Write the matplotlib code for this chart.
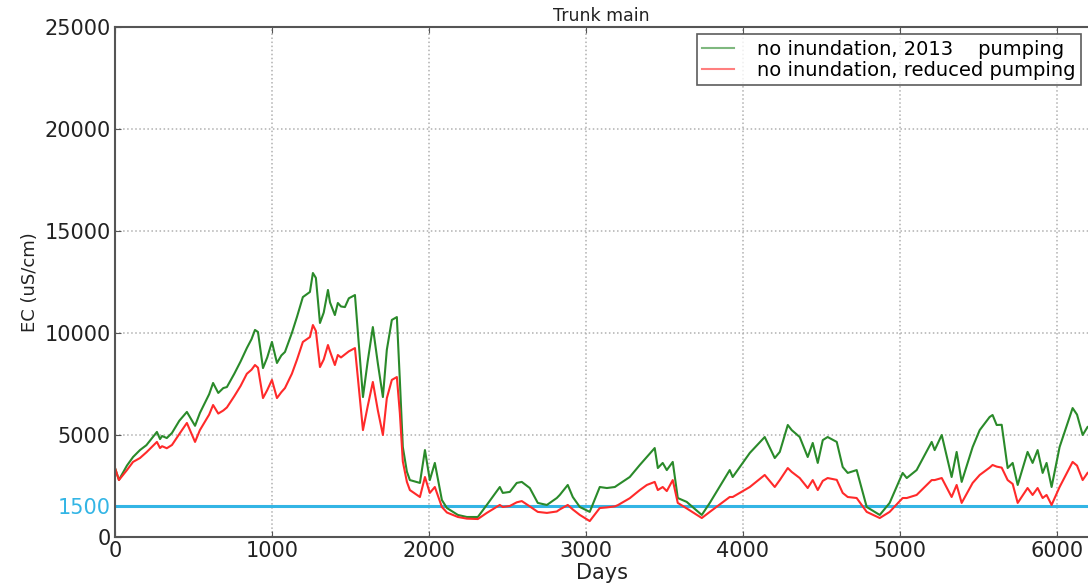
import matplotlib
matplotlib.use("Agg")
import matplotlib.pyplot as plt

days = [0, 25, 76, 115, 159, 200, 267, 287, 300, 330, 363, 410, 458, 510, 541, 600, 625, 658, 690, 713,
        760, 800, 840, 870, 892, 911, 943, 970, 1000, 1032, 1060, 1083, 1127, 1160, 1197, 1242, 1261, 1280,
        1306, 1330, 1357, 1370, 1401, 1420, 1440, 1465, 1490, 1529, 1555, 1580, 1610, 1643, 1675, 1707,
        1732, 1764, 1796, 1815, 1834, 1860, 1879, 1943, 1975, 2006, 2038, 2083, 2115, 2185, 2242, 2312,
        2369, 2452, 2471, 2516, 2560, 2592, 2643, 2694, 2752, 2815, 2834, 2885, 2917, 2962, 3025, 3089,
        3134, 3185, 3204, 3280, 3344, 3389, 3439, 3459, 3490, 3516, 3554, 3586, 3643, 3739, 3790, 3917,
        3936, 4045, 4140, 4204, 4236, 4287, 4312, 4363, 4414, 4446, 4478, 4510, 4541, 4599, 4637, 4669,
        4726, 4790, 4873, 4936, 5019, 5045, 5108, 5204, 5223, 5268, 5331, 5363, 5395, 5465, 5510, 5573,
        5592, 5618, 5650, 5688, 5720, 5752, 5815, 5847, 5879, 5911, 5936, 5968, 6019, 6102, 6130, 6166, 6197]

ec_2013 = [3380, 2800, 3500, 3920, 4260, 4500, 5150, 4800, 4950, 4850, 5100, 5700, 6130, 5450, 6080, 7000,
           7550, 7060, 7300, 7350, 8000, 8600, 9260, 9700, 10150, 10050, 8280, 8800, 9560, 8530, 8900, 9070,
           10000, 10800, 11760, 12010, 12940, 12700, 10490, 11000, 12110, 11500, 10880, 11470, 11300, 11270,
           11700, 11860, 9300, 6860, 8600, 10290, 8500, 6860, 9170, 10640, 10780, 7700, 4410, 3200, 2790,
           2650, 4260, 2790, 3630, 1810, 1420, 1080, 980, 980, 1570, 2450, 2160, 2210, 2650, 2700, 2400,
           1670, 1570, 1910, 2060, 2550, 1960, 1470, 1230, 2450, 2400, 2450, 2550, 2940, 3530, 3920, 4360,
           3380, 3630, 3280, 3680, 1910, 1720, 1080, 1670, 3280, 2940, 4120, 4900, 3870, 4170, 5490, 5240,
           4900, 3920, 4610, 3630, 4750, 4900, 4660, 3430, 3140, 3280, 1470, 1080, 1670, 3140, 2890, 3280,
           4660, 4260, 5000, 2940, 4170, 2700, 4410, 5240, 5880, 5980, 5490, 5500, 3380, 3630, 2550, 4170,
           3630, 4260, 3140, 3630, 2450, 4410, 6320, 6000, 5000, 5390]

ec_reduced = [3380, 2790, 3280, 3680, 3870, 4150, 4660, 4360, 4450, 4350, 4510, 5050, 5590, 4660, 5240, 6000,
              6470, 6050, 6200, 6350, 6900, 7400, 8000, 8200, 8430, 8300, 6810, 7200, 7700, 6810, 7100, 7300,
              8000, 8700, 9560, 9800, 10390, 10100, 8330, 8700, 9410, 9100, 8430, 8920, 8800, 8950, 9100,
              9260, 7200, 5240, 6400, 7600, 6200, 5000, 6800, 7700, 7840, 6080, 3700, 2700, 2300, 1960, 2940,
              2160, 2450, 1470, 1200, 980, 900, 880, 1180, 1570, 1470, 1520, 1700, 1760, 1500, 1230, 1180,
              1250, 1350, 1570, 1350, 1080, 780, 1420, 1450, 1500, 1560, 1900, 2300, 2550, 2700, 2300, 2450,
              2250, 2790, 1670, 1400, 930, 1230, 1960, 1960, 2450, 3040, 2450, 2790, 3380, 3190, 2890, 2400,
              2790, 2300, 2750, 2890, 2800, 2160, 1960, 1910, 1230, 930, 1230, 1910, 1910, 2060, 2790, 2790,
              2890, 1960, 2550, 1670, 2650, 3040, 3400, 3530, 3450, 3400, 2790, 2600, 1670, 2400, 2060, 2400,
              1910, 2060, 1570, 2450, 3680, 3500, 2790, 3140]

threshold = 1500
x_ticks = [0, 1000, 2000, 3000, 4000, 5000, 6000]
y_ticks = [0, 1500, 5000, 10000, 15000, 20000, 25000]
label_2013 = "no inundation, 2013    pumping"
label_reduced = "no inundation, reduced pumping"

fig = plt.figure(figsize=(10.88, 5.84), dpi=100)
ax = fig.add_axes([0.1057, 0.0805, 0.8943, 0.8733])

ax.plot(days, ec_2013, color="#2a8a2a", lw=1.5, label=label_2013)
ax.plot(days, ec_reduced, color="#ff2a2a", lw=1.5, label=label_reduced)
ax.axhline(threshold, color="#33b5e5", lw=2.2, zorder=1)

ax.set_xlim(0, 6200)
ax.set_ylim(0, 25000)
ax.set_xticks(x_ticks)
ax.set_yticks(y_ticks)
ax.set_xticklabels([str(v) for v in x_ticks], fontsize=15)
ax.set_yticklabels([str(v) for v in y_ticks], fontsize=15)
ax.tick_params(direction="in", top=True, right=False, length=4, color="#555555",
               labelcolor="#222222", pad=3)
for lbl in ax.get_yticklabels():
    if lbl.get_text() == "1500":
        lbl.set_color("#33b5e5")
ax.grid(True, linestyle=":", color="#b0b0b0", lw=1.1)
ax.set_axisbelow(True)
for s in ["left", "top", "bottom"]:
    ax.spines[s].set_color("#555555")
    ax.spines[s].set_linewidth(1.5)
ax.spines["right"].set_visible(False)

ax.set_title("Trunk main", fontsize=12.5, pad=4, color="#222222")
ax.set_xlabel("Days", fontsize=15, labelpad=1, color="#222222")
ax.set_ylabel("EC (uS/cm)", fontsize=13, labelpad=4, color="#222222")

leg = ax.legend(loc="upper right", fontsize=14, frameon=True, fancybox=False,
                borderaxespad=0.35, handlelength=1.6, handletextpad=1.2, borderpad=0.3,
                labelspacing=0.1)
leg.get_frame().set_edgecolor("#333333")
leg.get_frame().set_linewidth(1.2)
for line in leg.get_lines():
    line.set_alpha(0.6)

fig.savefig("out.png", dpi=100)
